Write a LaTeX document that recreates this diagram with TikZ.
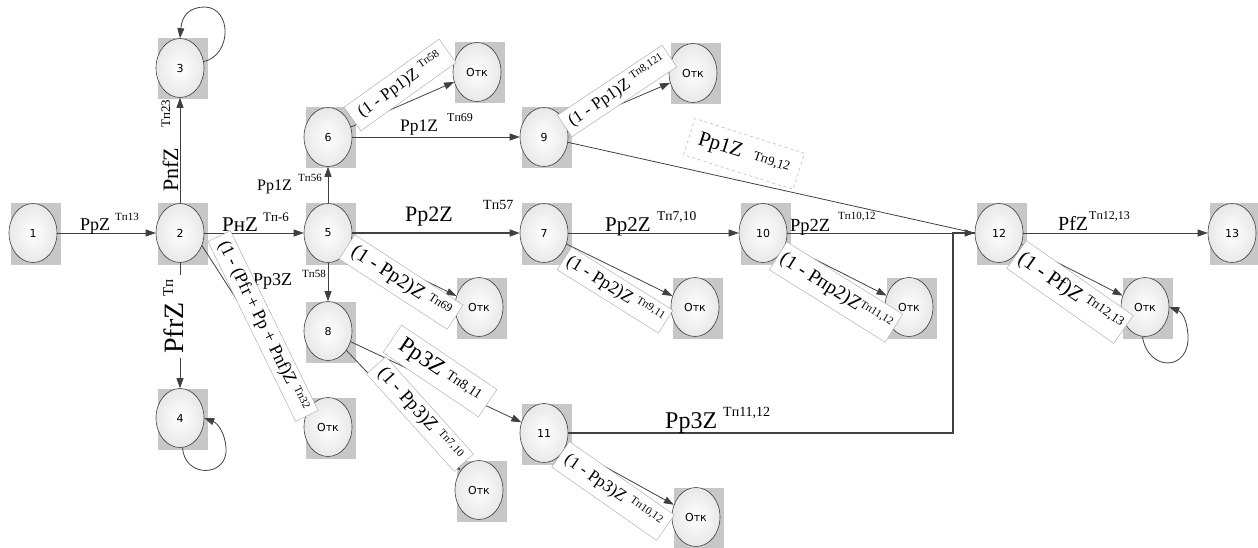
\documentclass[tikz,border=0pt]{standalone}
\usepackage{fontspec}
\setmainfont{Liberation Serif}
\newfontfamily\tms{Liberation Serif}
\newfontfamily\nodefont{DejaVu Sans}
\usetikzlibrary{shapes.geometric,arrows.meta}
\newcommand\fs[1]{\fontsize{#1}{#1}\selectfont}
\newcommand\stnode[4]{%
  \fill[gbox] (#2-22,#3-29.5) rectangle (#2+28,#3+31.5);
  \node[st] (#1) at (#2,#3) {#4};}
\begin{document}
\begin{tikzpicture}[x=1pt,y=-1pt,font=\tms,
  st/.style={ellipse,draw=black!75,line width=0.6pt,inner color=white,outer color=black!9,minimum width=48pt,minimum height=59pt,inner sep=0pt,font=\nodefont\fs{11}},
  gbox/.style={fill=black!22},
  ln/.style={draw=black!75,line width=0.8pt},
  thk/.style={draw=black!75,line width=1.6pt},
  arr/.style={-{Triangle[length=10pt,width=7pt]}},
  lab/.style={inner sep=0pt,anchor=base west},
  lbox/.style={draw=black!35,line width=0.4pt,fill=white,inner xsep=4pt,inner ysep=3pt}]
\useasboundingbox (0,0) rectangle (1258,548);
% nodes
\stnode{n1}{33}{233}{1}
\stnode{n2}{180}{233}{2}
\stnode{n3}{180}{68}{3}
\stnode{n4}{180}{418}{4}
\stnode{n5}{328}{233}{5}
\stnode{n6}{328}{137}{6}
\stnode{n7}{544}{233}{7}
\stnode{n8}{328}{331}{8}
\stnode{n9}{544}{137}{9}
\stnode{n10}{763}{233}{10}
\stnode{n11}{544}{433}{11}
\stnode{n12}{999}{233}{12}
\stnode{n13}{1232}{233}{13}
\stnode{oA}{477}{72}{Отк}
\stnode{oB}{328}{427}{Отк}
\stnode{oC}{693}{73}{Отк}
\stnode{oD}{479}{307}{Отк}
\stnode{oE}{695}{307}{Отк}
\stnode{oF}{909}{307}{Отк}
\stnode{oG}{479}{490}{Отк}
\stnode{oH}{696}{517}{Отк}
\stnode{oI}{1145}{307}{Отк}
\coordinate (j) at (953,433);
% connectors
\draw[ln,arr] (n1) -- (n2);
\draw[ln,arr] (n2) -- (n3);
\draw[ln,arr] (n2) -- (n4);
\draw[ln,arr] (n2) -- (n5);
\draw[ln,arr] (n2.-30) -- (oB.140);
\draw[ln,arr] (n5) -- (n6);
\draw[ln,arr] (n5) -- (n8);
\draw[thk,arr] (n5) -- (n7);
\draw[ln,arr] (n5) -- (oD);
\draw[ln,arr] (n6) -- (n9);
\draw[ln,arr] (n6) -- (oA);
\draw[ln,arr] (n9) -- (oC);
\draw[ln] (n9) -- (n12.west);
\draw[ln,arr] (n7) -- (n10);
\draw[ln,arr] (n7) -- (oE);
\draw[ln,arr] (n10) -- (n12);
\draw[ln,arr] (n10) -- (oF);
\draw[ln,arr] (n8) -- (n11);
\draw[ln,arr] (n8) -- (oG);
\draw[thk] (n11) -- (j) |- (n12.west);
\draw[ln,arr] (n11) -- (oH);
\draw[ln,arr] (n12) -- (n13);
\draw[ln,arr] (n12) -- (oI);
% loops
\draw[ln,arr] (n3.15) .. controls (232,55) and (232,8) .. (205,7) .. controls (190,7) and (182,15) .. (n3.north);
\draw[ln,arr] (n4.-85) .. controls (184,478) and (228,478) .. (226,448) .. controls (225,432) and (217,423) .. (n4.east);
\draw[ln,arr] (oI.-95) .. controls (1148,372) and (1190,372) .. (1188,335) .. controls (1187,320) and (1182,312) .. (oI.east);
% horizontal labels
\node[lab] (t12) at (80,230) {\fs{18}PpZ};
\node[lab] (s12) at (115,221) {\fs{11}Tп13};
\node[lab] (t25) at (222,232) {\fs{21}PнZ};
\node[lab] (s25) at (263,222) {\fs{13}Tп-6};
\node[lab] (t56) at (257,191) {\fs{16}Pp1Z};
\node[lab] (s56) at (298,182) {\fs{11}Tп56};
\node[lab] (t58) at (253,285) {\fs{18}Pp3Z};
\node[lab] (s58) at (302,277) {\fs{11}Tп58};
\node[lab] (t69) at (400,132) {\fs{17.5}Pp1Z};
\node[lab] (s69) at (447,122) {\fs{12}Tп69};
\node[lab] (t57) at (405,222) {\fs{22}Pp2Z};
\node[lab] (s57) at (483,210) {\fs{14}Tп57};
\node[lab] (t710) at (605,231) {\fs{21}Pp2Z};
\node[lab] (s710) at (657,221) {\fs{13.5}Tп7,10};
\node[lab] (t1012) at (790,231) {\fs{18.5}Pp2Z};
\node[lab] (s1012) at (838,220) {\fs{11}Tп10,12};
\node[lab] (t1112) at (665,428) {\fs{24}Pp3Z};
\node[lab] (s1112) at (723,416) {\fs{14}Tп11,12};
\node[lab] (t1213) at (1058,230) {\fs{20}PfZ};
\node[lab] (s1213) at (1089,220) {\fs{12}Tп12,13};
% vertical labels
\node[lab,rotate=90] (t23) at (178,192) {\fs{22}PnfZ};
\node[lab,rotate=90] (s23) at (170,128) {\fs{13}Tп23};
\node[lab,rotate=90,fill=white,inner xsep=4pt] (t24) at (183,358) {\fs{28}PfrZ\hspace{6pt}\raisebox{10pt}{\fs{15}Tп}};
% rotated label boxes
\node[lbox,rotate=-64,minimum width=200pt,minimum height=25pt] (b1) at (263,326) {\fs{18}(1 - (Pfr + Pp + Pnf)Z\hspace{5pt}\raisebox{5pt}{\fs{11}Tп32}};
\node[lbox,rotate=35.6,minimum width=117pt,minimum height=29pt] (b2) at (400,85) {\fs{17}(1 - Pp1)Z\hspace{5pt}\raisebox{6pt}{\fs{11}Tп58}};
\node[lbox,rotate=33.7,minimum width=126pt,minimum height=26pt] (b3) at (617,91) {\fs{17}(1 - Pp1)Z\hspace{5pt}\raisebox{6pt}{\fs{11}Tп8,121}};
\node[lbox,dashed,rotate=-17.6,minimum width=115pt,minimum height=38pt] (b4) at (744,154) {\fs{21}Pp1Z\hspace{12pt}\raisebox{2pt}{\fs{13}Tп9,12}};
\node[lbox,rotate=-33,minimum width=129pt,minimum height=29pt] (b5) at (401,282) {\fs{20}(1 - Pp2)Z\hspace{6pt}\raisebox{5pt}{\fs{12}Tп69}};
\node[lbox,rotate=-32,minimum width=118pt,minimum height=27pt] (b6) at (615,290) {\fs{18}(1 - Pp2)Z\hspace{5pt}\raisebox{5pt}{\fs{11}Tп9,11}};
\node[lbox,rotate=-32,minimum width=116pt,minimum height=33pt] (b7) at (836,292) {\fs{19.5}(1 - Pпр2)Z\raisebox{5pt}{\fs{11}Tп11,12}};
\node[lbox,rotate=-34,minimum width=115pt,minimum height=33pt] (b8) at (440,371) {\fs{23}Pp3Z\hspace{6pt}\raisebox{3pt}{\fs{14}Tп8,11}};
\node[lbox,rotate=-48,minimum width=131pt,minimum height=26pt] (b9) at (420,414) {\fs{19}(1 - Pp3)Z\hspace{6pt}\raisebox{5pt}{\fs{11}Tп7,10}};
\node[lbox,rotate=-35,minimum width=128pt,minimum height=31pt] (b10) at (613,491) {\fs{17}(1 - Pp3)Z\hspace{6pt}\raisebox{5pt}{\fs{11}Tп10,12}};
\node[lbox,rotate=-35,minimum width=128pt,minimum height=34pt] (b11) at (1070,292) {\fs{21}(1 - Pf)Z\hspace{5pt}\raisebox{6pt}{\fs{13}Tп12,13}};
\end{tikzpicture}
\end{document}
